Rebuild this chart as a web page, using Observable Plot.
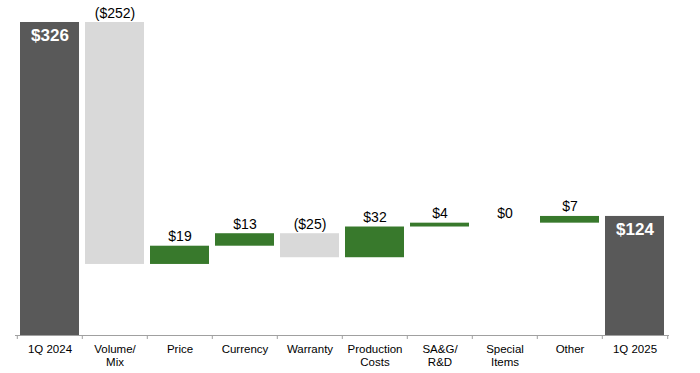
<!DOCTYPE html>
<html>
<head>
<meta charset="utf-8">
<script src="https://cdn.jsdelivr.net/npm/d3@7"></script>
<script src="https://cdn.jsdelivr.net/npm/@observablehq/plot@0.6"></script>
<style>
  html, body { margin: 0; padding: 0; background: #fff; }
  #chart svg { display: block; font-family: "Liberation Sans", Arial, sans-serif; }
</style>
</head>
<body>
<div id="chart"></div>
<script>
const categories = ["1Q 2024","Volume/Mix","Price","Currency","Warranty","Production Costs","SA&G/R&D","Special Items","Other","1Q 2025"];
const categoryLabels = ["1Q 2024","Volume/\nMix","Price","Currency","Warranty","Production\nCosts","SA&G/\nR&D","Special\nItems","Other","1Q 2025"];
const values = [326, -252, 19, 13, -25, 32, 4, 0, 7, 124];
const kinds = ["total","delta","delta","delta","delta","delta","delta","delta","delta","total"];
const valueLabels = ["$326","($252)","$19","$13","($25)","$32","$4","$0","$7","$124"];

const colors = {total: "#595959", up: "#38792C", down: "#D9D9D9"};

// build waterfall table
let running = 0;
const rows = categories.map((c, i) => {
  let start, end;
  if (kinds[i] === "total") { start = 0; end = values[i]; running = values[i]; }
  else { start = running; end = running + values[i]; running = end; }
  const type = kinds[i] === "total" ? "total" : (values[i] >= 0 ? "up" : "down");
  return {cat: c, label: categoryLabels[i], start, end, top: Math.max(start, end), type, text: valueLabels[i]};
});

const W = 700, H = 373, mL = 15, mR = 31, mT = 22, mB = 38;
const pInner = 0.1, pOuter = 0.05;
const step = (W - mL - mR) / (categories.length - pInner + 2 * pOuter);

const plot = Plot.plot({
  width: W,
  height: H,
  marginLeft: mL,
  marginRight: mR,
  marginTop: mT,
  marginBottom: mB,
  style: {fontFamily: '"Liberation Sans", Arial, sans-serif', background: "#fff"},
  x: {domain: categories, paddingInner: pInner, paddingOuter: pOuter, label: null},
  y: {domain: [0, 326], axis: null, label: null},
  marks: [
    Plot.barY(rows, {x: "cat", y1: "start", y2: "end", fill: d => colors[d.type]}),
    Plot.ruleY([0], {stroke: "#A0A0A0", strokeWidth: 1}),
    Plot.ruleX(rows, {x: "cat", y1: 0, y2: 0, dx: -step / 2, insetBottom: -4, stroke: "#A0A0A0"}),
    Plot.ruleX(rows.slice(-1), {x: "cat", y1: 0, y2: 0, dx: step / 2, insetBottom: -4, stroke: "#A0A0A0"}),
    Plot.axisX({
      tickSize: 0,
      tickPadding: 8,
      fontSize: 11.5,
      lineHeight: 1.15,
      tickFormat: c => categoryLabels[categories.indexOf(c)],
      fill: "#000",
      label: null
    }),
    Plot.text(rows.filter(d => d.type !== "total"), {
      x: "cat", y: "top", text: "text",
      lineAnchor: "bottom", dy: -5,
      fontSize: 14, fill: "#000"
    }),
    Plot.text(rows.filter(d => d.type === "total"), {
      x: "cat", y: "top", text: "text",
      lineAnchor: "top", dy: 6,
      fontSize: 17, fontWeight: "bold", fill: "#fff"
    })
  ]
});
document.getElementById("chart").appendChild(plot);
</script>
</body>
</html>
